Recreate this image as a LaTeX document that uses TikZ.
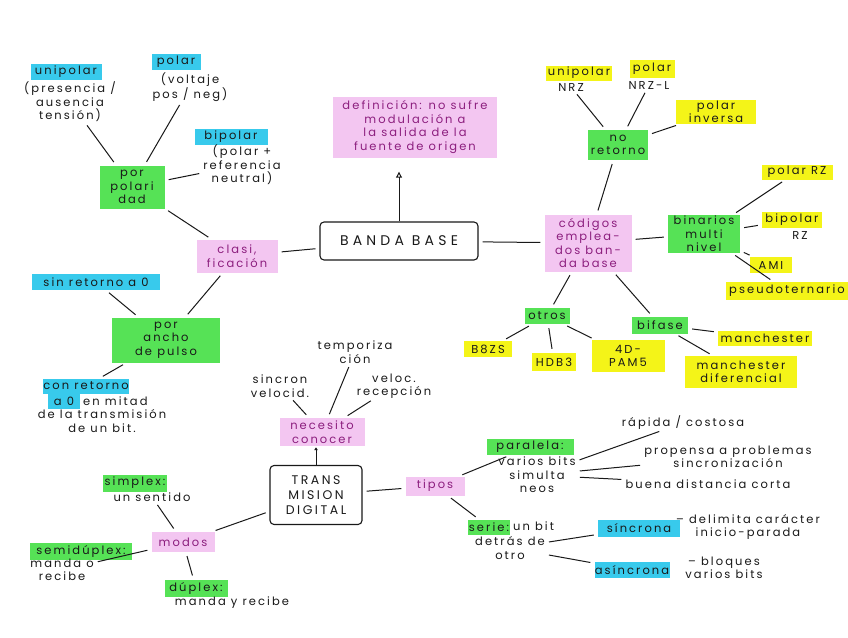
\documentclass[tikz,border=0pt]{standalone}
\usepackage{fontspec}
\setmainfont[LetterSpace=18]{Poppins}
\usetikzlibrary{arrows.meta}
\definecolor{cyhl}{RGB}{56,202,236}
\definecolor{grhl}{RGB}{86,226,86}
\definecolor{yehl}{RGB}{244,244,24}
\definecolor{pkhl}{RGB}{243,198,241}
\definecolor{pktx}{RGB}{140,30,126}
\definecolor{ink}{RGB}{25,25,25}
\begin{document}
\begin{tikzpicture}[x=1pt,y=-1pt,
  base/.style={font=\fontsize{11.5}{13.5}\selectfont, text=ink, align=center, inner sep=0pt},
  tx/.style={base},
  cy/.style={base, fill=cyhl},
  gr/.style={base, fill=grhl},
  ye/.style={base, fill=yehl},
  pk/.style={base, fill=pkhl, text=pktx},
  box/.style={draw=ink, line width=1.1pt, rounded corners=4pt, align=center, text=ink, inner sep=0pt},
  conn/.style={draw=ink, line width=1pt, shorten <=4pt, shorten >=4pt},
  arr/.style={draw=ink, line width=1pt, -{Triangle[open,length=6pt,width=6pt]}},
  arrs/.style={draw=ink, line width=1pt, -{Latex[length=3pt,width=4pt]}}]
\fill[white] (0,0) rectangle (848,637);
\useasboundingbox (0,0) rectangle (848,637);
% ---- left top
\node[cy, minimum width=71, minimum height=16] (unip) at (66,72) {unipolar};
\node[tx] (unipt) at (70,102) {(presencia /\\ausencia\\tensión)};
\node[cy, minimum width=49, minimum height=16] (pol) at (176,62) {polar};
\node[tx] (polt) at (190,87) {(voltaje\\pos / neg)};
\node[cy, minimum width=73, minimum height=16] (bip) at (231,137) {bipolar};
\node[tx] (bipt) at (242,165) {(polar +\\referencia\\neutral)};
\node[gr, minimum width=65, minimum height=43] (porpol) at (132,187) {por\\polari\\dad};
\node[pk, minimum width=81, minimum height=33] (clasif) at (237,256) {clasi,\\ficación};
\node[cy, minimum width=128, minimum height=16] (sinret) at (96,282) {sin retorno a 0};
\node[gr, minimum width=108, minimum height=45] (ancho) at (166,340) {por\\ancho\\de pulso};
\node[cy, minimum width=86, minimum height=15] (conret) at (86,386) {con retorno};
\node[cy, minimum width=32, minimum height=15] (conret2) at (64,401) {a 0};
\node[tx, anchor=west] (mitad) at (83,401) {en mitad};
\node[tx] (mitad2) at (102,421) {de la transmisión\\de un bit.};
% ---- banda base
\node[pk, minimum width=164, minimum height=61] (defin) at (415,127) {definición: no sufre\\modulación a\\la salida de la\\fuente de origen};
\node[box, minimum width=158, minimum height=38, font=\fontsize{14}{16}\selectfont\addfontfeature{LetterSpace=30}] (banda) at (399,241) {BANDA BASE};
\node[pk, minimum width=87, minimum height=57] (cod) at (588,243) {códigos\\emplea-\\dos ban-\\da base};
\node[gr, minimum width=60, minimum height=30] (noret) at (618,145) {no\\retorno};
\node[ye, minimum width=66, minimum height=15] (unrz) at (579,73) {unipolar};
\node[tx] (unrzt) at (571,87) {NRZ};
\node[ye, minimum width=45, minimum height=18] (pnrz) at (652,69) {polar};
\node[tx] (pnrzt) at (649,85) {NRZ-L};
\node[ye, minimum width=80, minimum height=24] (pinv) at (716,112) {polar\\inversa};
\node[ye, minimum width=71, minimum height=15] (prz) at (797,172) {polar RZ};
\node[gr, minimum width=72, minimum height=38] (binm) at (704,234) {binarios\\multi\\nivel};
\node[ye, minimum width=60, minimum height=16] (brz) at (792,220) {bipolar};
\node[tx] (brzt) at (800,235) {RZ};
\node[ye, minimum width=42, minimum height=16] (ami) at (771,265) {AMI};
\node[ye, minimum width=122, minimum height=18] (pseudo) at (787,291) {pseudoternario};
\node[gr, minimum width=45, minimum height=16] (otros) at (547,316) {otros};
\node[ye, minimum width=48, minimum height=16] (b8zs) at (488,349) {B8ZS};
\node[ye, minimum width=44, minimum height=18] (hdb3) at (554,362) {HDB3};
\node[ye, minimum width=73, minimum height=32] (pam) at (628,356) {4D-\\PAM5};
\node[gr, minimum width=56, minimum height=17] (bif) at (660,325) {bifase};
\node[ye, minimum width=94, minimum height=15] (man) at (765,338) {manchester};
\node[ye, minimum width=112, minimum height=32] (mand) at (741,372) {manchester\\diferencial};
% ---- transmision digital
\node[box, minimum width=92, minimum height=59, font=\fontsize{12.5}{15}\selectfont\addfontfeature{LetterSpace=20}] (trans) at (316,495) {TRANS\\MISION\\DIGITAL};
\node[pk, minimum width=85, minimum height=28] (nec) at (322,432) {necesito\\conocer};
\node[tx] (temp) at (355,352) {temporiza\\ción};
\node[tx] (sv) at (280,386) {sincron\\velocid.};
\node[tx] (vr) at (394,386) {veloc.\\recepción};
\node[pk, minimum width=59, minimum height=19] (tipos) at (435,486) {tipos};
\node[gr, minimum width=87, minimum height=16] (par) at (530,447) {paralela:};
\node[tx] (part) at (537,475) {varios bits\\simulta\\neos};
\node[tx] (rap) at (683,423) {rápida / costosa};
\node[tx] (prop) at (728,457) {propensa a problemas\\sincronización};
\node[tx] (buena) at (708,484) {buena distancia corta};
\node[gr, minimum width=42, minimum height=15] (serie) at (489,527) {serie:};
\node[tx, anchor=west] (seriet) at (513,526) {un bit};
\node[tx] (seriet2) at (510,548) {detrás de\\otro};
\node[cy, minimum width=82, minimum height=17] (sinc) at (639,528) {síncrona};
\node[tx] (sinct) at (748,527) {– delimita carácter\\inicio-parada};
\node[cy, minimum width=75, minimum height=16] (asinc) at (632,570) {asíncrona};
\node[tx] (asinct) at (724,568) {– bloques\\varios bits};
\node[pk, minimum width=63, minimum height=20] (modos) at (183,542) {modos};
\node[gr, minimum width=64, minimum height=17] (simp) at (135,483) {simplex:};
\node[tx] (simpt) at (152,497) {un sentido};
\node[gr, minimum width=102, minimum height=17] (semi) at (81,551) {semidúplex:};
\node[tx] (semit) at (62,570) {manda o\\recibe};
\node[gr, minimum width=63, minimum height=17] (dup) at (196,588) {dúplex:};
\node[tx] (dupt) at (232,603) {manda y recibe};
% ---- connectors
\draw[conn] (unipt) -- (porpol);
\draw[conn] (polt) -- (porpol);
\draw[conn] (bipt) -- (porpol);
\draw[conn] (porpol) -- (clasif);
\draw[conn] (clasif) -- (banda);
\draw[conn] (clasif) -- (ancho);
\draw[conn] (sinret) -- (ancho);
\draw[conn] (ancho) -- (conret);
\draw[arr, shorten >=14pt] (banda.north) -- (banda.north |- defin.south);
\draw[conn] (banda) -- (cod);
\draw[conn] (cod) -- (noret);
\draw[conn] (noret) -- (unrzt);
\draw[conn] (noret) -- (pnrzt);
\draw[conn] (noret) -- (pinv);
\draw[conn] (cod) -- (binm);
\draw[conn] (binm) -- (prz);
\draw[conn] (binm) -- (brz);
\draw[conn] (binm) -- (ami);
\draw[conn] (binm) -- (pseudo);
\draw[conn] (cod) -- (otros);
\draw[conn] (cod) -- (bif);
\draw[conn] (otros) -- (b8zs);
\draw[conn] (otros) -- (hdb3);
\draw[conn] (otros) -- (pam);
\draw[conn] (bif) -- (man);
\draw[conn] (bif) -- (mand);
\draw[arrs, shorten >=1pt] (trans.north) -- (trans.north |- nec.south);
\draw[conn] (nec) -- (temp);
\draw[conn] (nec) -- (sv);
\draw[conn] (nec) -- (vr);
\draw[conn] (trans) -- (tipos);
\draw[conn] (trans) -- (modos);
\draw[conn] (tipos) -- (par);
\draw[conn] (tipos) -- (serie);
\draw[conn] (part) -- (rap);
\draw[conn] (part) -- (prop);
\draw[conn] (part) -- (buena);
\draw[conn] (seriet2) -- (sinc);
\draw[conn] (seriet2) -- (asinc);
\draw[conn] (modos) -- (simpt);
\draw[conn] (modos) -- (semit);
\draw[conn] (modos) -- (dup);
\end{tikzpicture}
\end{document}
